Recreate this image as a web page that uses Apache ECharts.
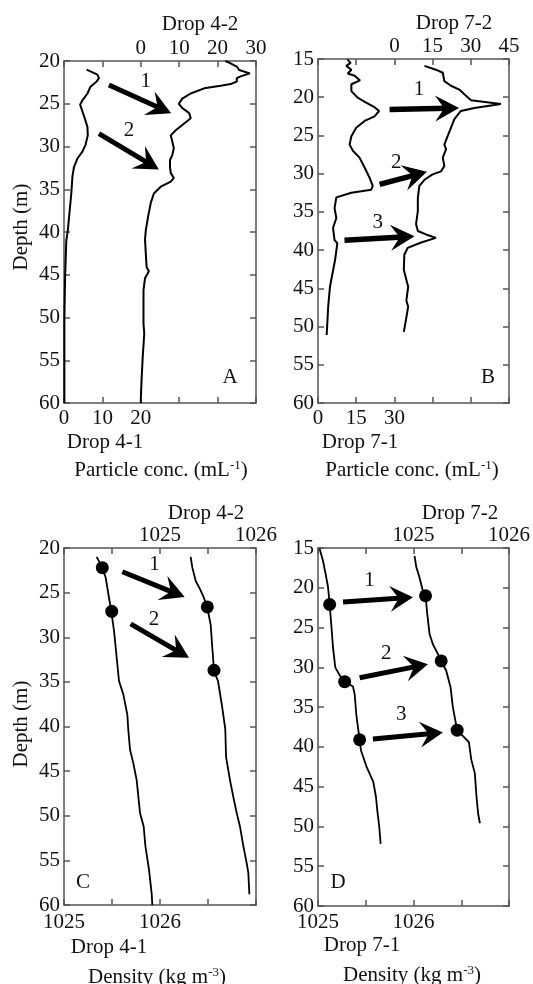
<!DOCTYPE html>
<html>
<head>
<meta charset="utf-8">
<script src="https://cdn.jsdelivr.net/npm/echarts@6/dist/echarts.min.js"></script>
<style>html,body{margin:0;padding:0;background:#fff}#c{width:533px;height:984px}</style>
</head>
<body>
<div id="c"></div>
<script>
// ---------- Panel A: particle concentration, Drop 4 ----------
const depthA1 = [21.0, 21.6, 22.0, 22.4, 23.0, 23.8, 24.6, 25.1, 25.9, 26.7, 27.7, 28.7, 29.8, 30.6, 31.4, 32.4, 33.5, 35.5, 37.4, 39.8, 41.0, 45.0, 50.0, 55.0, 60.0];
const concA1  = [5.9, 8.7, 9.1, 8.5, 6.9, 6.1, 4.8, 4.2, 4.8, 5.4, 6.1, 6.2, 5.6, 4.8, 3.5, 2.6, 2.2, 1.9, 1.5, 1.0, 0.6, 0.3, 0.1, 0.1, 0.1];
const depthA2 = [20.0, 20.2, 20.7, 21.05, 21.45, 21.8, 22.0, 22.4, 22.7, 22.9, 23.2, 23.8, 24.4, 25.0, 25.5, 26.1, 26.7, 27.3, 28.1, 28.7, 29.4, 30.2, 31.0, 31.6, 32.4, 33.1, 33.7, 34.1, 34.7, 35.5, 36.6, 38.2, 39.8, 40.9, 42.5, 44.1, 44.6, 45.4, 46.8, 50.7, 51.9, 54.6, 57.3, 59.6, 60.0];
const concA2  = [22.0, 23.0, 25.1, 25.6, 28.4, 26.0, 25.0, 25.0, 23.4, 20.8, 16.5, 13.0, 10.8, 9.9, 10.8, 12.6, 13.0, 11.3, 9.1, 7.8, 8.2, 8.6, 8.2, 7.6, 7.6, 7.8, 8.6, 7.8, 5.2, 3.4, 2.6, 1.9, 1.3, 1.1, 1.3, 1.5, 2.1, 1.1, 0.7, 0.7, 0.9, 0.5, 0.2, 0.0, 0.0];
// ---------- Panel B: particle concentration, Drop 7 ----------
const depthB1 = [15.05, 15.5, 15.9, 16.4, 16.9, 17.2, 17.8, 18.3, 19.2, 20.1, 20.7, 21.3, 21.8, 22.5, 23.1, 24.0, 25.1, 26.2, 27.0, 27.9, 29.2, 30.5, 31.6, 32.1, 32.5, 33.1, 34.5, 35.8, 37.1, 38.7, 39.1, 41.3, 44.8, 47.4, 51.1];
const concB1  = [11.5, 12.8, 11.1, 13.1, 11.7, 14.4, 16.5, 13.1, 13.1, 15.7, 18.9, 22.2, 24.0, 22.2, 18.3, 15.0, 13.1, 12.4, 13.7, 16.3, 18.3, 20.2, 21.5, 20.9, 13.1, 7.2, 6.5, 7.2, 5.9, 6.5, 7.6, 6.7, 4.7, 4.0, 3.4];
const depthB2 = [15.9, 16.4, 16.8, 17.9, 18.5, 19.0, 19.8, 20.4, 20.9, 21.4, 21.8, 22.9, 24.0, 25.1, 26.2, 26.8, 27.9, 29.0, 29.7, 30.1, 30.8, 31.6, 33.2, 34.9, 36.6, 37.5, 37.95, 38.4, 39.0, 39.7, 40.6, 42.6, 44.8, 46.6, 47.4, 48.8, 50.7];
const concB2  = [11.8, 16.3, 19.0, 19.6, 22.2, 25.5, 28.1, 30.1, 41.8, 31.4, 26.1, 23.5, 22.2, 20.9, 19.6, 20.3, 19.0, 19.6, 18.3, 15.0, 11.8, 9.8, 9.2, 9.2, 8.5, 9.2, 12.4, 16.3, 10.5, 5.2, 3.9, 3.7, 5.4, 4.7, 5.4, 4.7, 3.7];
// ---------- Panel C: density, Drop 4 ----------
const depthC1 = [21.0, 22.2, 23.3, 25.6, 27.1, 29.3, 32.3, 34.9, 36.4, 38.7, 40.4, 42.6, 44.1, 46.0, 49.7, 51.2, 53.4, 56.0, 58.7, 60.0];
const densC1  = [1025.340, 1025.399, 1025.434, 1025.469, 1025.493, 1025.521, 1025.549, 1025.573, 1025.618, 1025.660, 1025.670, 1025.688, 1025.722, 1025.757, 1025.792, 1025.830, 1025.848, 1025.885, 1025.913, 1025.920];
const depthC2 = [21.0, 22.2, 23.7, 24.6, 25.6, 26.7, 28.6, 31.2, 33.8, 34.9, 37.9, 40.3, 43.4, 46.0, 47.9, 49.7, 51.2, 53.4, 55.3, 56.4, 58.8];
const densC2  = [1025.319, 1025.337, 1025.372, 1025.417, 1025.458, 1025.493, 1025.528, 1025.545, 1025.563, 1025.604, 1025.649, 1025.680, 1025.688, 1025.729, 1025.764, 1025.799, 1025.833, 1025.868, 1025.903, 1025.920, 1025.931];
// ---------- Panel D: density, Drop 7 ----------
const depthD1 = [15.1, 16.6, 18.1, 19.9, 22.1, 24.6, 27.5, 30.0, 31.0, 31.8, 32.4, 33.4, 35.9, 37.5, 39.1, 40.45, 42.5, 44.4, 46.3, 48.0, 50.1, 52.2];
const densD1  = [1025.017, 1025.052, 1025.077, 1025.105, 1025.122, 1025.139, 1025.157, 1025.181, 1025.227, 1025.279, 1025.366, 1025.384, 1025.401, 1025.418, 1025.436, 1025.450, 1025.509, 1025.579, 1025.607, 1025.621, 1025.642, 1025.656];
const depthD2 = [16.0, 17.4, 18.7, 20.4, 21.0, 23.3, 25.8, 27.1, 28.3, 29.2, 30.4, 32.5, 35.0, 37.9, 39.4, 41.6, 43.3, 46.3, 48.4, 49.6];
const densD2  = [1025.011, 1025.029, 1025.063, 1025.098, 1025.126, 1025.144, 1025.168, 1025.203, 1025.255, 1025.290, 1025.342, 1025.388, 1025.412, 1025.457, 1025.580, 1025.605, 1025.642, 1025.660, 1025.677, 1025.695];
// ---------- Marked points (dots) ----------
const dotDepthC1 = [22.2, 27.1];        const dotDensC1 = [1025.399, 1025.497];
const dotDepthC2 = [26.6, 33.7];        const dotDensC2 = [1025.493, 1025.5625];
const dotDepthD1 = [22.1, 31.8, 39.1];  const dotDensD1 = [1025.122, 1025.279, 1025.436];
const dotDepthD2 = [21.0, 29.2, 37.9];  const dotDensD2 = [1025.126, 1025.290, 1025.457];
// ---------- Arrows: [startX, startDepth, tipX, tipDepth] on the bottom axis ----------
const arrowsA = [[11.7, 22.8, 27.9, 26.1], [9.1, 28.5, 24.7, 32.7]];
const arrowsB = [[28.1, 21.6, 55.4, 21.4], [24.2, 31.4, 42.8, 29.75], [10.4, 38.7, 37.9, 38.2]];
const arrowsC = [[1025.608, 22.66, 1026.257, 25.5], [1025.694, 28.5, 1026.302, 32.3]];
const arrowsD = [[1025.262, 21.8, 1025.994, 21.2], [1025.436, 31.3, 1026.151, 29.6], [1025.575, 39.0, 1026.308, 38.2]];
// ---------- Arrow number labels ----------
const labTextA = ['1', '2'];       const labXA = [21.3, 16.9];              const labDepthA = [22.4, 28.1];
const labTextB = ['1', '2', '3'];  const labXB = [39.7, 30.7, 23.5];        const labDepthB = [19.0, 28.5, 36.4];
const labTextC = ['1', '2'];       const labXC = [1025.944, 1025.9375];     const labDepthC = [21.8, 28.0];
const labTextD = ['1', '2', '3'];  const labXD = [1025.540, 1025.715, 1025.872]; const labDepthD = [19.1, 28.2, 35.9];

const FONT = '"Liberation Serif", "Times New Roman", serif';
const FS = 21;
const AXC = '#555';

const zip = (xs, ys) => xs.map((x, i) => [x, ys[i]]);
const isInt = v => Math.abs(v - Math.round(v)) < 1e-6;

function xAx(gridIndex, position, min, max, interval, show, margin) {
  return {
    type: 'value', gridIndex, position, min, max, interval,
    axisLine: { show: true, onZero: false, lineStyle: { color: AXC, width: 1.5 } },
    axisTick: { show: true, inside: true, length: 6, lineStyle: { color: AXC, width: 1.5 } },
    splitLine: { show: false },
    axisLabel: {
      show: true, margin, showMinLabel: true, showMaxLabel: true,
      fontFamily: FONT, fontSize: FS, color: '#111',
      formatter: v => show(v) ? String(Math.round(v)) : ''
    }
  };
}
function yAx(gridIndex, position, min, labels) {
  return {
    type: 'value', gridIndex, position, min, max: 60, interval: 5, inverse: true,
    axisLine: { show: true, onZero: false, lineStyle: { color: AXC, width: 1.5 } },
    axisTick: { show: true, inside: true, length: 6, lineStyle: { color: AXC, width: 1.5 } },
    splitLine: { show: false },
    axisLabel: { show: labels, margin: 4, fontFamily: FONT, fontSize: FS, color: '#111', showMinLabel: true, showMaxLabel: true }
  };
}

function lineSeries(xi, yi, xs, ys, w) {
  return { type: 'line', xAxisIndex: xi, yAxisIndex: yi, data: zip(xs, ys), showSymbol: false, symbol: 'none',
           lineStyle: { color: '#000', width: w }, silent: true, animation: false, z: 3 };
}
function dotSeries(xi, yi, xs, ys) {
  return { type: 'scatter', xAxisIndex: xi, yAxisIndex: yi, data: zip(xs, ys), symbolSize: 13,
           itemStyle: { color: '#000', opacity: 1 }, silent: true, animation: false, z: 5 };
}
function arrowSeries(xi, yi, arr, shaftW, headL, headW) {
  return {
    type: 'custom', xAxisIndex: xi, yAxisIndex: yi, data: arr, silent: true, animation: false, z: 6,
    renderItem: (params, api) => {
      const p1 = api.coord([api.value(0), api.value(1)]);
      const p2 = api.coord([api.value(2), api.value(3)]);
      const dx = p2[0] - p1[0], dy = p2[1] - p1[1];
      const len = Math.hypot(dx, dy);
      const ux = dx / len, uy = dy / len, nx = -uy, ny = ux;
      const N = headL * 0.38;
      const base = [p2[0] - ux * headL, p2[1] - uy * headL];
      const notch = [p2[0] - ux * (headL - N), p2[1] - uy * (headL - N)];
      return {
        type: 'group', children: [
          { type: 'line', shape: { x1: p1[0], y1: p1[1], x2: notch[0] + ux * 3, y2: notch[1] + uy * 3 },
            style: { stroke: '#000', lineWidth: shaftW } },
          { type: 'polygon', shape: { points: [p2, [base[0] + nx * headW, base[1] + ny * headW], notch,
                                               [base[0] - nx * headW, base[1] - ny * headW]] },
            style: { fill: '#000' } }
        ]
      };
    }
  };
}
function labelSeries(xi, yi, texts, xs, ys) {
  return {
    type: 'custom', xAxisIndex: xi, yAxisIndex: yi, data: zip(xs, ys), silent: true, animation: false, z: 6,
    renderItem: (params, api) => {
      const p = api.coord([api.value(0), api.value(1)]);
      return { type: 'text', x: p[0], y: p[1],
               style: { text: texts[params.dataIndex], font: FS + 'px ' + FONT, fill: '#111',
                        textAlign: 'center', textVerticalAlign: 'middle' } };
    }
  };
}

function txt(x, y, text, rotate) {
  return { type: 'text', x, y, rotation: rotate ? Math.PI / 2 : 0, silent: true,
           style: { text, font: FS + 'px ' + FONT, fill: '#111', textAlign: 'center', textVerticalAlign: 'middle',
                    rich: { sup: { fontSize: 13, fontFamily: FONT, verticalAlign: 'top', fill: '#111' },
                            n: { fontSize: FS, fontFamily: FONT, fill: '#111' } } } };
}

const option = {
  backgroundColor: '#fff',
  animation: false,
  grid: [
    { left: 64, top: 61, width: 192, height: 342 },
    { left: 318, top: 59, width: 191, height: 344 },
    { left: 64, top: 548, width: 192, height: 357 },
    { left: 318, top: 548, width: 191, height: 358 }
  ],
  xAxis: [
    xAx(0, 'bottom', 0, 50, 10, v => v <= 20, 5),
    xAx(0, 'top', -20, 30, 10, v => v >= 0, 2),
    xAx(1, 'bottom', 0, 75, 15, v => v <= 30, 5),
    xAx(1, 'top', -30, 45, 15, v => v >= 0, 2),
    xAx(2, 'bottom', 1025, 1027, 0.5, v => isInt(v) && v < 1026.5, 7),
    xAx(2, 'top', 1024, 1026, 0.5, v => isInt(v) && v > 1024.5, 2),
    xAx(3, 'bottom', 1025, 1027, 0.5, v => isInt(v) && v < 1026.5, 6),
    xAx(3, 'top', 1024, 1026, 0.5, v => isInt(v) && v > 1024.5, 2)
  ],
  yAxis: [
    yAx(0, 'left', 20, true), yAx(0, 'right', 20, false),
    yAx(1, 'left', 15, true), yAx(1, 'right', 15, false),
    yAx(2, 'left', 20, true), yAx(2, 'right', 20, false),
    yAx(3, 'left', 15, true), yAx(3, 'right', 15, false)
  ],
  series: [
    lineSeries(0, 0, concA1, depthA1, 2), lineSeries(1, 0, concA2, depthA2, 2),
    arrowSeries(0, 0, arrowsA, 5, 24, 13), labelSeries(0, 0, labTextA, labXA, labDepthA),
    lineSeries(2, 2, concB1, depthB1, 2), lineSeries(3, 2, concB2, depthB2, 2),
    arrowSeries(2, 2, arrowsB, 5.5, 24, 13), labelSeries(2, 2, labTextB, labXB, labDepthB),
    lineSeries(4, 4, densC1, depthC1, 1.8), lineSeries(5, 4, densC2, depthC2, 1.8),
    dotSeries(4, 4, dotDensC1, dotDepthC1), dotSeries(5, 4, dotDensC2, dotDepthC2),
    arrowSeries(4, 4, arrowsC, 5, 24, 13), labelSeries(4, 4, labTextC, labXC, labDepthC),
    lineSeries(6, 6, densD1, depthD1, 1.8), lineSeries(7, 6, densD2, depthD2, 1.8),
    dotSeries(6, 6, dotDensD1, dotDepthD1), dotSeries(7, 6, dotDensD2, dotDepthD2),
    arrowSeries(6, 6, arrowsD, 5, 23, 13), labelSeries(6, 6, labTextD, labXD, labDepthD)
  ],
  graphic: [
    txt(200, 24, 'Drop 4-2'), txt(454, 23, 'Drop 7-2'),
    txt(21, 227, 'Depth (m)', true),
    txt(105, 442, 'Drop 4-1'), txt(161, 470, '{n|Particle conc. (mL}{sup|-1}{n|)}'),
    txt(360, 442, 'Drop 7-1'), txt(412, 470, '{n|Particle conc. (mL}{sup|-1}{n|)}'),
    txt(230, 377, 'A'), txt(488, 377, 'B'),
    txt(206, 513, 'Drop 4-2'), txt(460, 513, 'Drop 7-2'),
    txt(21, 724, 'Depth (m)', true),
    txt(109, 947, 'Drop 4-1'), txt(157, 977, '{n|Density (kg m}{sup|-3}{n|)}'),
    txt(362, 945, 'Drop 7-1'), txt(412, 975, '{n|Density (kg m}{sup|-3}{n|)}'),
    txt(83, 882, 'C'), txt(338, 882, 'D')
  ]
};

const chart = echarts.init(document.getElementById('c'), null, { renderer: 'canvas' });
chart.setOption(option);
</script>
</body>
</html>
